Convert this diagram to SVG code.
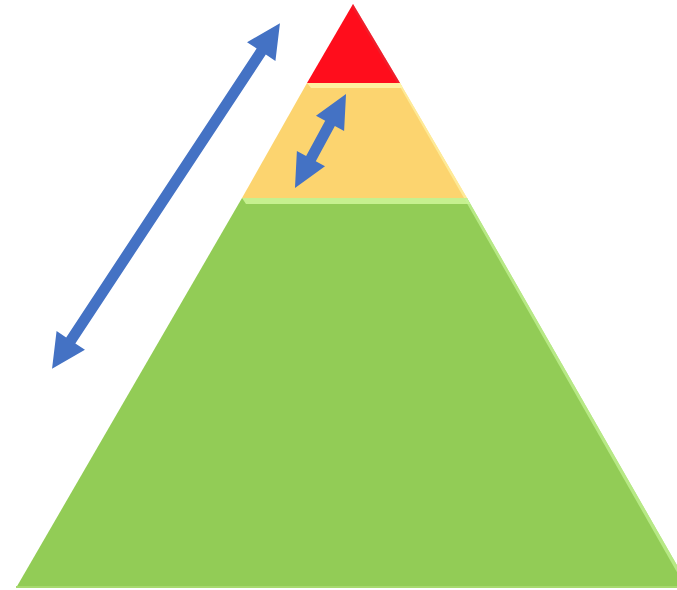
<svg xmlns="http://www.w3.org/2000/svg" width="677" height="590" viewBox="0 0 677 590">
  <style>
    .arrow { fill: #4472C4; }
  </style>
  <rect width="677" height="590" fill="#FFFFFF"/>
  <g id="tier-top">
    <polygon points="353,4 307,83 400,83" fill="#FF0D1C"/>
    <polygon points="353,4 400,83 397,83 352,7" fill="#E0303A" opacity="0.5"/>
  </g>
  <g id="tier-middle">
    <polygon points="307,83 400,83 467,198 242,198" fill="#FCD46F"/>
    <polygon points="307,83 400,83 403,88 311,88" fill="#FFF0A0"/>
    <polygon points="400,83 467,198 464,198 399,85" fill="#FFF3A8" opacity="0.7"/>
  </g>
  <g id="tier-bottom">
    <polygon points="242,198 467,198 690,588 16,588" fill="#92CC56"/>
    <polygon points="242,198 467,198 470,204 246,204" fill="#C6F08F"/>
    <polygon points="467,198 690,588 686,588 465,200" fill="#C8F59A" opacity="0.7"/>
    <rect x="16" y="586" width="674" height="2" fill="#A6D96E"/>
  </g>
  <g id="connectors">
    <polygon class="arrow" transform="translate(166,196) rotate(-56.6)" points="207,0 173,-17 173,-5.5 -173,-5.5 -173,-17 -207,0 -173,17 -173,5.5 173,5.5 173,17"/>
    <polygon class="arrow" transform="translate(320.5,141) rotate(-61.5)" points="53.5,0 20,-16 20,-5.5 -20,-5.5 -20,-16 -53.5,0 -20,16 -20,5.5 20,5.5 20,16"/>
  </g>
</svg>
